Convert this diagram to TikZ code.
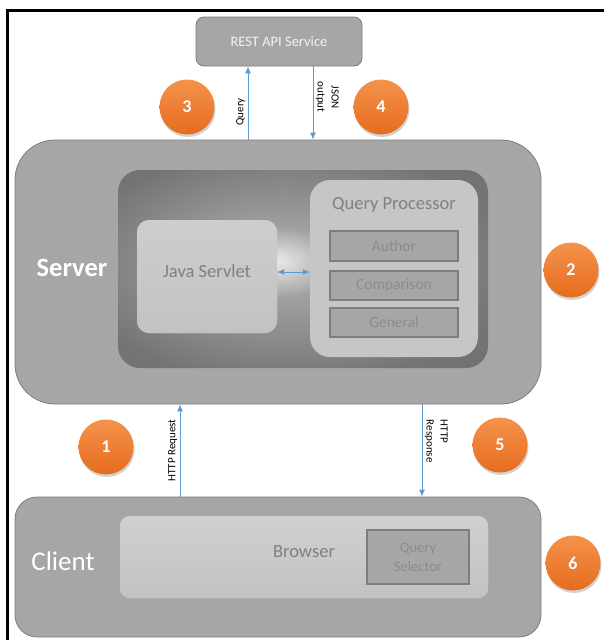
\documentclass[tikz,border=0pt]{standalone}
\usepackage{fontspec}
\setmainfont{Carlito}
\usetikzlibrary{arrows,arrows.meta,shadows,calc}
\definecolor{myblue}{RGB}{91,155,213}
\definecolor{mygray}{RGB}{166,166,166}
\definecolor{myedge}{RGB}{125,125,125}
\definecolor{mytext}{RGB}{128,128,128}
\definecolor{mypale}{RGB}{140,140,140}
\definecolor{mylight}{RGB}{208,208,208}
\definecolor{mylightb}{RGB}{194,194,194}
\definecolor{myglowin}{RGB}{236,236,236}
\definecolor{myglowmid}{RGB}{160,160,160}
\definecolor{myglowout}{RGB}{108,108,108}
\definecolor{myorange}{RGB}{245,146,76}
\definecolor{myorangeb}{RGB}{230,108,30}
\pgfdeclareradialshading{glow}{\pgfpoint{-4bp}{2bp}}{color(0bp)=(myglowin); color(9bp)=(myglowmid); color(30bp)=(myglowout!85!myglowmid); color(50bp)=(myglowout)}

\begin{document}
\begin{tikzpicture}[x=1pt, y=-1pt, >={Latex[length=7pt,width=6pt]},
	tier/.style={draw=myedge, fill=mygray, line width=0.8pt},
	panel/.style={fill=mylight, rounded corners=12},
	part/.style={draw=myedge, fill=mygray, line width=1.2pt, text=mypale, font=\fontsize{15.5}{17}\selectfont},
	flow/.style={draw=myblue, line width=0.8pt},
	note/.style={font=\fontsize{11}{14}\selectfont, inner sep=2.5pt},
	numdot/.style={circle, minimum size=55, top color=myorange, bottom color=myorangeb, text=white, font=\fontsize{18}{21}\selectfont\bfseries, drop shadow={shadow xshift=1pt, shadow yshift=-2.5pt, opacity=0.35}}]
	% Fix the page and draw the frame
	\useasboundingbox (0,0) rectangle (604,640);
	\draw[line width=3pt] (7,640) -- (7,10) -- (604,10);

	% Draw the REST service and the server
	\node[tier, rounded corners=8, minimum width=166, minimum height=49, text=white!95!black, font=\fontsize{14.5}{17}\selectfont] (rest) at (279,41.5) {REST API Service};
	\node[tier, rounded corners=40, minimum width=526, minimum height=264] (server) at (278,272) {};
	\node[shading=glow, rounded corners=22, minimum width=370, minimum height=198] (core) at (303,269) {};
	\node[text=white, font=\fontsize{26.5}{30}\selectfont\bfseries] (srvname) at (72,268) {Server};

	% Draw the servlet and the query processor
	\node[panel, top color=mylight!105, bottom color=mylightb, minimum width=140, minimum height=113] (java) at (207,276.5) {};
	\node[text=mytext, font=\fontsize{18.5}{22}\selectfont] (javaname) at (207,271) {Java Servlet};
	\node[panel, fill=mylight!95!black, rounded corners=20, minimum width=168, minimum height=177] (qp) at (394,268.5) {};
	\node[text=mytext, font=\fontsize{18.5}{22}\selectfont] (qpname) at (394,205) {Query Processor};
	\node[part, minimum width=128, minimum height=30] (author) at (394,246) {Author};
	\node[part, minimum width=128, minimum height=29] (comparison) at (394,285.5) {Comparison};
	\node[part, minimum width=128, minimum height=29] (general) at (394,322.5) {General};
	\draw[flow, <->] ([yshift=4.5pt]java.east) -- ([yshift=4.5pt]java.east -| qp.west);

	% Draw the client with the browser
	\node[tier, rounded corners=22, minimum width=526, minimum height=140] (client) at (278,567) {};
	\node[text=white, font=\fontsize{27}{31}\selectfont] (cltname) at (63,561) {Client};
	\node[panel, rounded corners=10, top color=mylight, bottom color=mylightb, minimum width=368, minimum height=82] (browser) at (304,557) {};
	\node[text=mytext, font=\fontsize{18.5}{22}\selectfont] (brwname) at (304,552) {Browser};
	\node[part, align=center, minimum width=102, minimum height=54, font=\fontsize{14.5}{19}\selectfont] (selector) at (418,557) {Query\\Selector};

	% Draw the requests and responses
	\coordinate (qx) at (248,0);
	\coordinate (jx) at (313,0);
	\coordinate (rqx) at (180,0);
	\coordinate (rsx) at (422,0);
	\draw[flow, ->] (qx |- server.north) -- (qx |- rest.south) node[pos=0.38, note, rotate=90, above] {Query};
	\draw[flow, ->] (jx |- rest.south) -- (jx |- server.north) node[pos=0.42, note, rotate=-90, above, align=center] {JSON\\output};
	\draw[flow, ->] (rqx |- client.north) -- (rqx |- server.south) node[midway, note, rotate=90, above] {HTTP Request};
	\draw[flow, ->] (rsx |- server.south) -- (rsx |- client.north) node[pos=0.4, note, rotate=-90, above, align=left] {HTTP\\Response};

	% Number the steps
	\node[numdot] (n1) at (106,447) {1};
	\node[numdot] (n2) at (571,270) {2};
	\node[numdot] (n3) at (187,107) {3};
	\node[numdot] (n4) at (381,107) {4};
	\node[numdot] (n5) at (500,445) {5};
	\node[numdot] (n6) at (573,563) {6};
\end{tikzpicture}
\end{document}
